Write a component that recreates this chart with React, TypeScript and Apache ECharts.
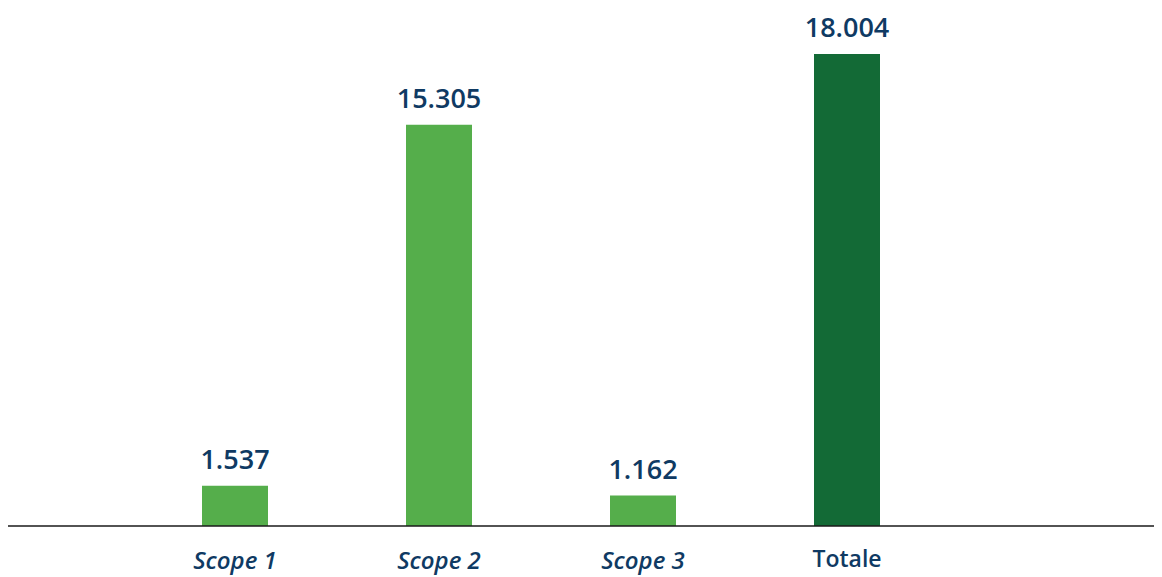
import React, { useEffect, useRef } from "react";
import * as echarts from "echarts";

const categories = ["Scope 1", "Scope 2", "Scope 3", "Totale"];
const emissions = [1537, 15305, 1162, 18004];
const barColors = ["#55ae4b", "#55ae4b", "#55ae4b", "#136a36"];

const navy = "#0f3a63";
const fontFamily = "'Open Sans', 'Noto Sans', sans-serif";

const formatIt = (v: number) => String(v).replace(/\B(?=(\d{3})+(?!\d))/g, ".");

export default function App() {
  const ref = useRef<HTMLDivElement>(null);

  useEffect(() => {
    if (!ref.current) return;
    const chart = echarts.init(ref.current, undefined, { renderer: "svg" });
    chart.setOption({
      animation: false,
      grid: { left: 133, width: 816, top: 54, bottom: 51 },
      xAxis: {
        type: "category",
        data: categories,
        axisLine: { show: false },
        axisTick: { show: false },
        axisLabel: {
          margin: 19,
          color: navy,
          fontSize: 24,
          fontWeight: 600,
          fontFamily,
          formatter: (v: string) => (v === "Totale" ? `{n|${v}}` : `{i|${v}}`),
          rich: {
            i: { fontStyle: "italic", fontSize: 24, lineHeight: 28, fontWeight: 600, color: navy, fontFamily },
            n: { fontSize: 23, lineHeight: 26, fontWeight: 600, color: navy, fontFamily },
          },
        },
      },
      yAxis: {
        type: "value",
        min: 0,
        max: 18004,
        show: false,
        splitLine: { show: false },
      },
      graphic: [
        {
          type: "line",
          shape: { x1: 8, y1: 526, x2: 1157, y2: 526 },
          style: { stroke: "#1a1a1a", lineWidth: 1.5 },
          z: 10,
        },
      ],
      series: [
        {
          type: "bar",
          barWidth: 66,
          data: emissions.map((v, i) => ({ value: v, itemStyle: { color: barColors[i] } })),
          label: {
            show: true,
            position: "top",
            distance: 14,
            color: navy,
            fontSize: 27,
            fontWeight: 600,
            fontFamily,
            formatter: (p: any) => formatIt(p.value),
          },
        },
      ],
    });
    return () => chart.dispose();
  }, []);

  return <div ref={ref} style={{ width: 1162, height: 577, margin: "-8px -8px 0 -8px" }} />;
}
